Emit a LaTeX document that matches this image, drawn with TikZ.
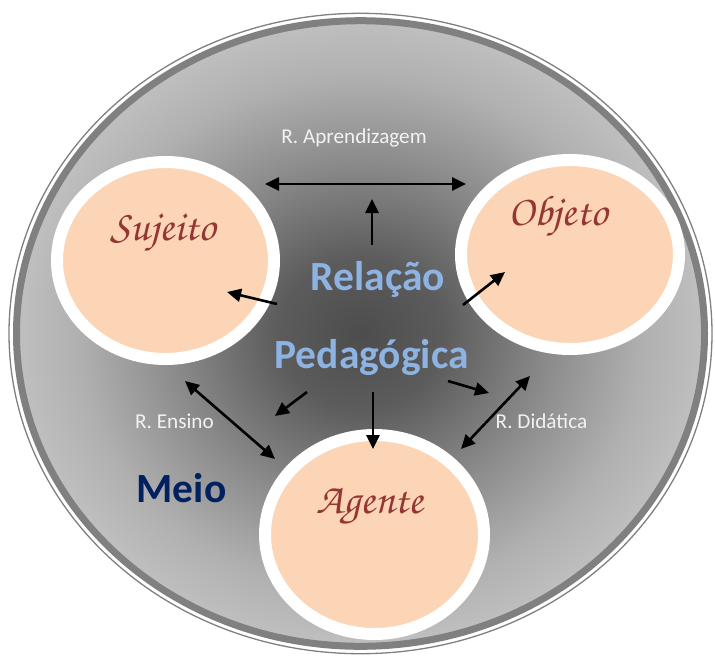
\documentclass[tikz,border=0pt]{standalone}
\usepackage{fontspec}
\setmainfont{Carlito}
\newfontfamily\chorusfont{TeX Gyre Chorus}
\usetikzlibrary{arrows.meta,shapes.geometric}
\definecolor{peach}{RGB}{251,213,181}
\definecolor{redtxt}{RGB}{148,54,52}
\definecolor{lblue}{RGB}{141,179,226}
\definecolor{dblue}{RGB}{0,32,96}
\definecolor{lbl}{RGB}{242,242,242}
\definecolor{rimgray}{RGB}{128,128,128}
\definecolor{sh0}{gray}{0.30}
\definecolor{sh1}{gray}{0.36}
\definecolor{sh2}{gray}{0.55}
\definecolor{sh3}{gray}{0.69}
\definecolor{sh4}{gray}{0.75}
\pgfdeclareradialshading{meio}{\pgfpoint{0bp}{0bp}}{color(0bp)=(sh0); color(6bp)=(sh1); color(14bp)=(sh2); color(20.5bp)=(sh3); color(25bp)=(sh4); color(50bp)=(sh4)}
\begin{document}
\begin{tikzpicture}[x=1pt,y=-1pt,
  ring/.style={ellipse, draw=white, line width=12pt, fill=peach, inner sep=0pt},
  scr/.style={font=\chorusfont\fontsize{43}{43}\selectfont, text=redtxt, anchor=base},
  big/.style={font=\bfseries\fontsize{41.5}{41.5}\selectfont, anchor=base},
  small/.style={font=\fontsize{21.2}{21.2}\selectfont, text=lbl, anchor=base},
  arr/.style={line width=2.6pt, draw=black, -{Triangle[length=14pt,width=13pt]}},
  darr/.style={line width=2.6pt, draw=black, {Triangle[length=14pt,width=13pt]}-{Triangle[length=14pt,width=13pt]}}]
\useasboundingbox (0,0) rectangle (715,657);
% outer disc
\coordinate (c) at (360.5,333.5);
\filldraw[fill=white, draw=rimgray, line width=1.3pt] (c) ellipse [x radius=351.5, y radius=320.2];
\shadedraw[shading=meio, draw=rimgray, line width=7pt] (c) ellipse [x radius=344, y radius=312.8];
% circles
\node[ring, minimum width=217pt, minimum height=197pt] (suj) at (165.5,260.5) {};
\node[ring, minimum width=218pt, minimum height=189pt] (obj) at (570,254.5) {};
\node[ring, minimum width=219pt, minimum height=199pt] (age) at (374.5,534.5) {};
% circle labels
\node[scr] (tsuj) at (163,240) {Sujeito};
\node[scr] (tobj) at (558,225) {Objeto};
\node[scr] (tage) at (370,513) {Agente};
% central text
\node[big, text=lblue] (rel) at (378,290) {Relação};
\node[big, text=lblue] (ped) at (371.5,368) {Pedagógica};
\node[big, text=dblue] (meio) at (181.5,502) {Meio};
% relation labels
\node[small] (rapr) at (354,143) {R. Aprendizagem};
\node[small] (rens) at (174.5,428) {R. Ensino};
\node[small] (rdid) at (541.5,428) {R. Didática};
% arrow ends
\coordinate (a1) at (265,184);
\coordinate (a2) at (466,184);
\coordinate (u0) at (372,245);
\coordinate (u1) at (372,199);
\coordinate (s0) at (277,304);
\coordinate (s1) at (227,292);
\coordinate (o0) at (463,305);
\coordinate (o1) at (505,272);
\coordinate (e0) at (185,381);
\coordinate (e1) at (275,459);
\coordinate (l0) at (307,392);
\coordinate (l1) at (275,416);
\coordinate (d0) at (373,392);
\coordinate (d1) at (373,449);
\coordinate (r0) at (448,381);
\coordinate (r1) at (489,393);
\coordinate (t0) at (530,376);
\coordinate (t1) at (461,449);
% arrows
\draw[darr] (a1) -- (a2);
\draw[arr] (u0) -- (u1);
\draw[arr] (s0) -- (s1);
\draw[arr] (o0) -- (o1);
\draw[darr] (e0) -- (e1);
\draw[arr] (l0) -- (l1);
\draw[arr] (d0) -- (d1);
\draw[arr] (r0) -- (r1);
\draw[darr] (t0) -- (t1);
\end{tikzpicture}
\end{document}
